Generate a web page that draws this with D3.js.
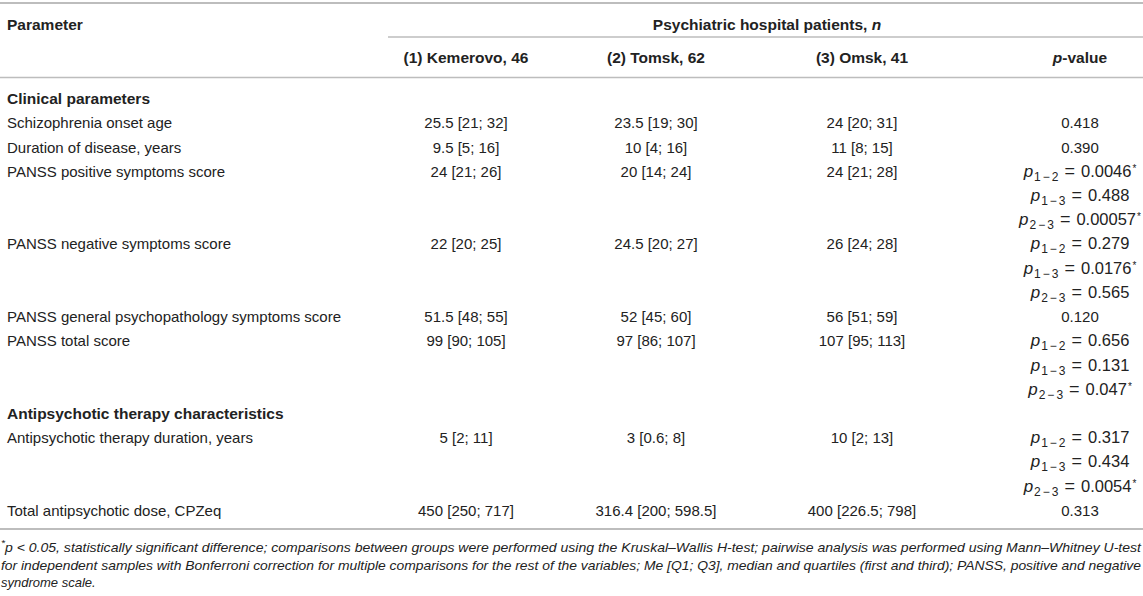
<!DOCTYPE html>
<html>
<head>
<meta charset="utf-8">
<script src="https://cdn.jsdelivr.net/npm/d3@7"></script>
<style>
  html, body { margin: 0; padding: 0; background: #fff; }
  svg { display: block; font-family: "Liberation Sans", Arial, Helvetica, sans-serif; }
</style>
</head>
<body>
<svg id="chart" width="1143" height="596"></svg>
<script>
// ---- data ----
const groupHeaders = ["(1) Kemerovo, 46", "(2) Tomsk, 62", "(3) Omsk, 41"];
const sections = ["Clinical parameters", "Antipsychotic therapy characteristics"];
const parameters = [
  "Schizophrenia onset age",
  "Duration of disease, years",
  "PANSS positive symptoms score",
  "PANSS negative symptoms score",
  "PANSS general psychopathology symptoms score",
  "PANSS total score",
  "Antipsychotic therapy duration, years",
  "Total antipsychotic dose, CPZeq"
];
const parameterSection = [0, 0, 0, 0, 0, 0, 1, 1];
const kemerovo = ["25.5 [21; 32]", "9.5 [5; 16]", "24 [21; 26]", "22 [20; 25]", "51.5 [48; 55]", "99 [90; 105]", "5 [2; 11]", "450 [250; 717]"];
const tomsk = ["23.5 [19; 30]", "10 [4; 16]", "20 [14; 24]", "24.5 [20; 27]", "52 [45; 60]", "97 [86; 107]", "3 [0.6; 8]", "316.4 [200; 598.5]"];
const omsk = ["24 [20; 31]", "11 [8; 15]", "24 [21; 28]", "26 [24; 28]", "56 [51; 59]", "107 [95; 113]", "10 [2; 13]", "400 [226.5; 798]"];
// p-values: a plain string, or a list of [pair, value, significant]
const pValues = [
  "0.418",
  "0.390",
  [[["1", "2"], "0.0046", true], [["1", "3"], "0.488", false], [["2", "3"], "0.00057", true]],
  [[["1", "2"], "0.279", false], [["1", "3"], "0.0176", true], [["2", "3"], "0.565", false]],
  "0.120",
  [[["1", "2"], "0.656", false], [["1", "3"], "0.131", false], [["2", "3"], "0.047", true]],
  [[["1", "2"], "0.317", false], [["1", "3"], "0.434", false], [["2", "3"], "0.0054", true]],
  "0.313"
];
const footnoteLines = [
  "p < 0.05, statistically significant difference; comparisons between groups were performed using the Kruskal–Wallis H-test; pairwise analysis was performed using Mann–Whitney U-test",
  "for independent samples with Bonferroni correction for multiple comparisons for the rest of the variables; Me [Q1; Q3], median and quartiles (first and third); PANSS, positive and negative",
  "syndrome scale."
];

// ---- build row list ----
const rows = [];
let lastSection = -1;
parameters.forEach((p, i) => {
  if (parameterSection[i] !== lastSection) {
    lastSection = parameterSection[i];
    rows.push({ type: "section", label: sections[lastSection] });
  }
  const pv = pValues[i];
  rows.push({ type: "param", label: p, values: [kemerovo[i], tomsk[i], omsk[i]], p: Array.isArray(pv) ? pv[0] : pv });
  if (Array.isArray(pv)) {
    pv.slice(1).forEach(q => rows.push({ type: "pcont", p: q }));
  }
});

// ---- scales ----
const W = 1143;
const textColor = "#222";
const lineColor = "#bdbdbd";
const y = d3.scaleLinear().domain([0, rows.length - 1]).range([99, 510.5]);
const colX = d3.scaleOrdinal().domain(["c0", "c1", "c2", "p"]).range([466, 656, 862, 1080]);

const svg = d3.select("#chart");

// ---- rules ----
const rules = [
  { x1: 0, x2: W, y: 3, w: 2.2 },
  { x1: 388, x2: W, y: 37, w: 1.3 },
  { x1: 0, x2: W, y: 77.5, w: 1.6 },
  { x1: 0, x2: W, y: 529, w: 2.2 }
];
svg.selectAll("line.rule").data(rules).join("line")
  .attr("class", "rule")
  .attr("x1", d => d.x1).attr("x2", d => d.x2)
  .attr("y1", d => d.y).attr("y2", d => d.y)
  .attr("stroke", lineColor).attr("stroke-width", d => d.w);

const boldSize = 15.5;
const bodySize = 15;

// ---- header ----
svg.append("text").attr("x", 7).attr("y", 25).attr("dy", "0.35em")
  .attr("font-size", boldSize).attr("font-weight", "bold").attr("fill", textColor)
  .text("Parameter");

const spanHead = svg.append("text").attr("x", 767).attr("y", 25).attr("dy", "0.35em")
  .attr("text-anchor", "middle").attr("font-size", boldSize).attr("font-weight", "bold").attr("fill", textColor);
spanHead.append("tspan").text("Psychiatric hospital patients, ");
spanHead.append("tspan").attr("font-style", "italic").text("n");

svg.selectAll("text.gh").data(groupHeaders).join("text")
  .attr("class", "gh")
  .attr("x", (d, i) => colX("c" + i)).attr("y", 58).attr("dy", "0.35em")
  .attr("text-anchor", "middle").attr("font-size", boldSize).attr("font-weight", "bold").attr("fill", textColor)
  .text(d => d);

const ph = svg.append("text").attr("x", colX("p")).attr("y", 58).attr("dy", "0.35em")
  .attr("text-anchor", "middle").attr("font-size", boldSize).attr("font-weight", "bold").attr("fill", textColor);
ph.append("tspan").attr("font-style", "italic").text("p");
ph.append("tspan").text("-value");

// ---- body ----
const g = svg.append("g").attr("font-size", bodySize).attr("fill", textColor);

rows.forEach((r, i) => {
  const yy = y(i);
  if (r.type === "section") {
    g.append("text").attr("x", 7).attr("y", yy).attr("dy", "0.35em")
      .attr("font-size", boldSize).attr("font-weight", "bold").text(r.label);
    return;
  }
  if (r.type === "param") {
    g.append("text").attr("x", 7).attr("y", yy).attr("dy", "0.35em").text(r.label);
    r.values.forEach((v, k) => {
      g.append("text").attr("x", colX("c" + k)).attr("y", yy).attr("dy", "0.35em")
        .attr("text-anchor", "middle").text(v);
    });
  }
  // p-value cell
  const t = g.append("text").attr("x", colX("p")).attr("y", yy).attr("dy", "0.35em")
    .attr("text-anchor", "middle");
  if (typeof r.p === "string") {
    t.text(r.p);
  } else {
    const [pair, val, sig] = r.p;
    t.append("tspan").attr("font-style", "italic").attr("font-size", 17).text("p");
    t.append("tspan").attr("font-size", 12).attr("dx", 1).attr("dy", 4).text(pair[0]);
    t.append("tspan").attr("font-size", 12).attr("dx", 2).text("−");
    t.append("tspan").attr("font-size", 12).attr("dx", 2).text(pair[1]);
    t.append("tspan").attr("font-size", 18).attr("dx", 6).attr("dy", -4).text("=");
    t.append("tspan").attr("font-size", 16.5).attr("dx", 6).text(val);
    if (sig) t.append("tspan").attr("font-size", 10).attr("dx", 1).attr("dy", -5).text("*");
  }
});

// ---- footnote ----
const fy = [547, 565, 582];
const fn = svg.append("g").attr("font-size", 13).attr("font-style", "italic").attr("fill", textColor);
footnoteLines.forEach((line, i) => {
  const t = fn.append("text").attr("x", 1).attr("y", fy[i]).attr("dy", "0.35em");
  if (i === 0) {
    t.append("tspan").attr("font-size", 9.5).attr("dy", "-0.1em").text("*");
    t.append("tspan").attr("dy", "0.45em").text(line);
  } else {
    t.text(line);
  }
  if (i < 2) t.attr("textLength", 1140).attr("lengthAdjust", "spacingAndGlyphs");
});
</script>
</body>
</html>
